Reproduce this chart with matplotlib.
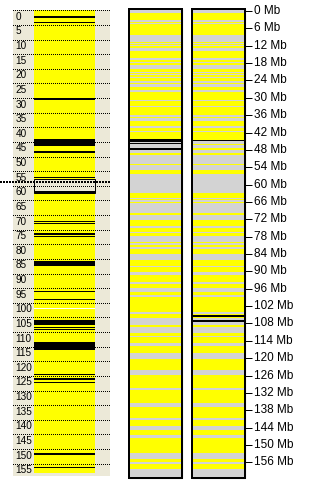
import matplotlib.pyplot as plt
from matplotlib.patches import Rectangle

plt.rcParams['font.family'] = ['Liberation Sans', 'DejaVu Sans']

# left map: position units, black marker bands (start, end)
left_ticks = list(range(0, 160, 5))
left_len = 158.3
left_black = [(2.0, 2.6), (3.9, 4.4), (30.0, 30.5), (44.0, 46.3), (48.2, 48.7),
              (57.0, 57.4), (71.9, 72.3), (72.6, 72.9), (76.3, 76.7), (77.1, 77.5),
              (85.7, 87.4), (95.8, 96.2), (98.6, 99.2), (105.9, 107.6), (108.2, 108.6),
              (108.9, 109.3), (113.3, 116.1), (124.2, 124.6), (125.7, 126.5),
              (127.0, 127.4), (151.5, 151.9), (156.0, 156.4)]
left_box = (57.8, 62.4)
left_mark = 58.6
left_gap = 101.7

# physical map in Mb
mb_ticks = list(range(0, 157, 6))
chrom_len = 161.5
mid_yellow = [(0.8, 3.1), (3.8, 4.0), (4.5, 8.3), (10.6, 11.2), (11.4, 11.9), (12.1, 12.9),
              (13.8, 14.8), (15.0, 16.4), (16.9, 17.2), (17.4, 17.6), (17.8, 18.7),
              (20.2, 21.2), (21.4, 21.9), (22.1, 22.7), (23.3, 24.2), (24.8, 25.2),
              (26.4, 27.3), (28.0, 30.8), (31.1, 32.8), (33.3, 35.9), (36.5, 37.1),
              (37.9, 39.8), (40.5, 41.4), (41.9, 44.2), (49.0, 49.8), (52.9, 53.2),
              (55.0, 56.3), (57.3, 57.5), (63.0, 64.5), (65.1, 65.3), (66.1, 66.5),
              (69.9, 70.5), (72.2, 74.3), (75.1, 76.3), (76.6, 77.8), (79.7, 80.3),
              (80.9, 81.7), (82.4, 84.1), (86.1, 88.1), (88.6, 90.1), (91.3, 93.6),
              (94.4, 95.9), (97.0, 98.2), (99.0, 103.9), (104.7, 106.2), (108.5, 109.1),
              (111.4, 112.2), (112.8, 114.7), (115.8, 118.1), (120.4, 124.1),
              (125.8, 130.4), (131.0, 135.6), (136.8, 140.8), (141.4, 143.4),
              (144.8, 146.6), (147.7, 152.7), (155.0, 155.8), (156.6, 158.4)]
mid_black = [(44.2, 45.2), (45.6, 45.9), (47.2, 47.9)]
right_yellow = mid_yellow + [(41.9, 44.5), (45.9, 46.2), (47.3, 47.9)]
right_black = [(44.5, 44.8), (105.1, 105.9), (106.8, 107.4)]

W, H = 315, 486
fig = plt.figure(figsize=(W / 100, H / 100), dpi=100)
fig.patch.set_facecolor('white')


def px_axes(x0, y0, x1, y1):
    return fig.add_axes([x0 / W, 1 - y1 / H, (x1 - x0) / W, (y1 - y0) / H])


px = 0.72  # one pixel in points

# ---- left map
ax = px_axes(13, 10, 110, 476)
ax.set_xlim(13, 110)
ax.set_ylim(159.2, -0.1)
ax.axis('off')
ax.add_patch(Rectangle((13, -0.1), 97, 159.3, color='#ECE9D8', zorder=0))
ax.bar(64.5, left_len, width=61, bottom=0, color='#FFFF00', zorder=1)
ax.bar(64.5, [e - s for s, e in left_black], width=61,
       bottom=[s for s, e in left_black], color='black', zorder=2)
ax.bar(64.5, 0.3, width=61, bottom=left_gap, color='white', zorder=2)
ax.add_patch(Rectangle((34, left_box[0]), 61, left_box[1] - left_box[0],
                       facecolor='#ECE9D8', edgecolor='black', lw=px, zorder=3))
ax.bar(64.5, 0.6, width=61, bottom=left_box[1] - 0.6, color='black', zorder=3)
ax.hlines(left_ticks, 13, 110, colors='black', lw=px, linestyles=(0, (0.6, 1.4)),
          antialiased=False, zorder=4)
ax.hlines([left_mark], 0, 110, colors='black', lw=2 * px, linestyles=(0, (1, 1)),
          antialiased=False, clip_on=False, zorder=4)
for t in left_ticks:
    ax.text(15.5, t + 0.5, str(t), ha='left', va='top', fontsize=7.2, zorder=5)

# ---- physical maps
ax2 = px_axes(120, 8, 315, 480)
ax2.set_xlim(120, 315)
ax2.set_ylim(162.1, -1.04)
ax2.axis('off')
for x0, yel, blk in [(129, mid_yellow, mid_black), (192, right_yellow, right_black)]:
    ax2.add_patch(Rectangle((x0, -0.6), 53, chrom_len + 0.6, color='#D3D3D3', zorder=0))
    ax2.bar(x0 + 26.5, [e - s for s, e in yel], width=53,
            bottom=[s for s, e in yel], color='#FFFF00', zorder=1)
    ax2.bar(x0 + 26.5, [e - s for s, e in blk], width=53,
            bottom=[s for s, e in blk], color='black', zorder=2)
    ax2.add_patch(Rectangle((x0, -0.6), 53, chrom_len + 0.6, fill=False,
                            edgecolor='black', lw=2 * px, zorder=3))
ax2.hlines(mb_ticks, 245, 252, colors='black', lw=px)
for t in mb_ticks:
    ax2.text(253.5, t, f'{t} Mb', ha='left', va='center', fontsize=8.5)

fig.savefig('out.png', dpi=100)
